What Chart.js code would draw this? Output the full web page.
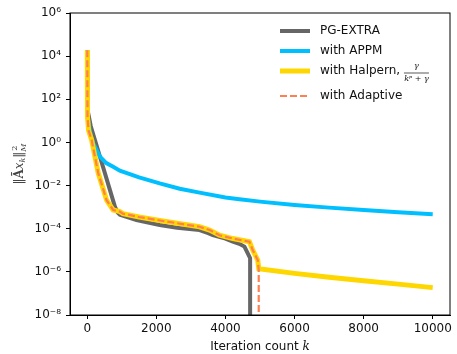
<!DOCTYPE html>
<html>
<head>
<meta charset="utf-8">
<script src="https://cdn.jsdelivr.net/npm/chart.js@4.4.1/dist/chart.umd.min.js"></script>
<style>
  html, body { margin: 0; padding: 0; background: #fff; }
</style>
</head>
<body>
<canvas id="myChart" width="457" height="354"></canvas>
<script>
// ---- data ----
const xTicks = [0, 2000, 4000, 6000, 8000, 10000];
const yTicks = [1e-8, 1e-6, 1e-4, 1e-2, 1e0, 1e2, 1e4, 1e6];

// PG-EXTRA
const pgIters = [0, 8, 100, 222, 510, 800, 880, 945, 1425, 2097, 2600, 3251, 3500, 3635, 4000, 4212, 4400, 4550, 4646, 4714, 4714];
const pgVals  = [1.9e4, 32, 5.8, 1.3, 0.038, 0.00105, 0.00056, 0.00044, 0.00025, 0.000148, 0.000112, 8.7e-5, 6.3e-5, 5.1e-5, 3.5e-5, 2.5e-5, 2e-5, 1.48e-5, 7.2e-6, 4.3e-6, 1e-12];

// with APPM
const appmIters = [0, 6, 100, 173, 366, 550, 750, 943, 1500, 2097, 2677, 3251, 4000, 4405, 5000, 6000, 7000, 8000, 9000, 10000];
const appmVals  = [1.9e4, 15.5, 2.2, 0.91, 0.22, 0.11, 0.074, 0.049, 0.024, 0.0126, 0.0071, 0.0047, 0.0028, 0.0023, 0.0018, 0.00126, 0.00095, 0.00074, 0.00058, 0.00047];

// with Halpern
const halpIters = [0, 6, 40, 127, 317, 560, 750, 943, 1030, 1500, 2097, 2600, 3251, 3540, 3830, 4212, 4694, 4790, 4935, 4965, 6000, 7000, 8000, 9000, 10000];
const halpVals  = [1.9e4, 15.5, 3.5, 1.3, 0.038, 0.0021, 0.00074, 0.00062, 0.0005, 0.00035, 0.00024, 0.00018, 0.000123, 8.7e-5, 5e-5, 3.5e-5, 2.5e-5, 1.02e-5, 3.5e-6, 1.4e-6, 8.5e-7, 5.6e-7, 3.9e-7, 2.7e-7, 1.86e-7];

// with Adaptive
const adaIters = [0, 6, 40, 127, 317, 560, 750, 943, 1030, 1500, 2097, 2600, 3251, 3540, 3830, 4212, 4694, 4790, 4935, 4963, 4963];
const adaVals  = [1.9e4, 15.5, 3.5, 1.3, 0.038, 0.0021, 0.00074, 0.00062, 0.0005, 0.00035, 0.00024, 0.00018, 0.000123, 8.7e-5, 5e-5, 3.5e-5, 2.5e-5, 1.02e-5, 3.5e-6, 1.26e-6, 1e-12];

const toPts = (xs, ys) => xs.map((x, i) => ({ x: x, y: ys[i] }));

const sup = { "0": "⁰", "1": "¹", "2": "²", "3": "³", "4": "⁴", "5": "⁵", "6": "⁶", "7": "⁷", "8": "⁸", "9": "⁹", "-": "⁻" };
function powLabel(v) {
  const e = String(Math.round(Math.log10(v)));
  return "10" + e.split("").map(c => sup[c]).join("");
}

// frame, axis titles and legend
const extras = {
  id: "extras",
  afterDraw(chart) {
    const ctx = chart.ctx;
    const a = chart.chartArea;
    ctx.save();
    ctx.strokeStyle = "#000";
    ctx.lineWidth = 1;
    ctx.strokeRect(a.left, a.top, a.right - a.left, a.bottom - a.top);

    // x title
    ctx.fillStyle = "#111";
    ctx.textBaseline = "middle";
    ctx.font = "12px 'DejaVu Sans'";
    const t1 = "Iteration count ";
    const w1 = ctx.measureText(t1).width;
    ctx.font = "italic 12px 'DejaVu Serif'";
    const w2 = ctx.measureText("k").width;
    let x0 = (a.left + a.right) / 2 - (w1 + w2) / 2;
    ctx.font = "12px 'DejaVu Sans'";
    ctx.textAlign = "left";
    ctx.fillText(t1, x0, 347);
    ctx.font = "italic 12px 'DejaVu Serif'";
    ctx.fillText("k", x0 + w1, 347);

    // y title
    ctx.save();
    ctx.translate(20, (a.top + a.bottom) / 2);
    ctx.rotate(-Math.PI / 2);
    ctx.fillStyle = "#444";
    const parts = [
      ["‖", "12px 'DejaVu Sans'", 0],
      ["Ã", "bold 12px 'DejaVu Serif'", 0],
      ["x", "italic 12px 'DejaVu Serif'", 0],
      ["k", "italic 8px 'DejaVu Serif'", 3],
      ["‖", "12px 'DejaVu Sans'", 0]
    ];
    let total = 0;
    parts.forEach(p => { ctx.font = p[1]; total += ctx.measureText(p[0]).width; });
    ctx.font = "8px 'DejaVu Serif'";
    const wSup = ctx.measureText("M").width;
    total += wSup;
    let cx = -total / 2;
    parts.forEach(p => {
      ctx.font = p[1];
      ctx.fillText(p[0], cx, p[2]);
      cx += ctx.measureText(p[0]).width;
    });
    ctx.font = "8px 'DejaVu Serif'";
    ctx.fillText("2", cx + 1, -5);
    ctx.font = "italic 8px 'DejaVu Serif'";
    ctx.fillText("M", cx, 4);
    ctx.restore();

    // legend
    const rows = [31, 51, 71, 96];
    const names = ["PG-EXTRA", "with APPM", "with Halpern, ", "with Adaptive"];
    chart.data.datasets.forEach((ds, i) => {
      const y = rows[i];
      ctx.beginPath();
      ctx.strokeStyle = ds.borderColor;
      ctx.lineWidth = ds.borderWidth;
      ctx.setLineDash(ds.borderDash || []);
      ctx.moveTo(280, y);
      ctx.lineTo(310, y);
      ctx.stroke();
      ctx.setLineDash([]);
      ctx.fillStyle = "#111";
      ctx.font = "12px 'DejaVu Sans'";
      ctx.textAlign = "left";
      ctx.textBaseline = "middle";
      ctx.fillText(names[i], 320, y);
      if (i === 2) {
        const fx = 320 + ctx.measureText(names[i]).width;
        const fw = 25;
        ctx.font = "italic 8px 'DejaVu Serif'";
        ctx.textAlign = "center";
        ctx.fillText("γ", fx + fw / 2, y - 5);
        ctx.fillText("kᵖ + γ", fx + fw / 2, y + 8);
        ctx.beginPath();
        ctx.strokeStyle = "#111";
        ctx.lineWidth = 0.7;
        ctx.moveTo(fx, y + 2);
        ctx.lineTo(fx + fw, y + 2);
        ctx.stroke();
      }
    });
    ctx.restore();
  }
};

const lineDs = (label, pts, color, width, order, dash) => ({
  label: label,
  data: pts,
  borderColor: color,
  backgroundColor: color,
  borderWidth: width,
  borderDash: dash,
  pointRadius: 0,
  tension: 0,
  fill: false,
  order: order
});

const config = {
  type: "line",
  data: {
    datasets: [
      lineDs("PG-EXTRA", toPts(pgIters, pgVals), "#666666", 4, 4),
      lineDs("with APPM", toPts(appmIters, appmVals), "#00BFFF", 4, 3),
      lineDs("with Halpern", toPts(halpIters, halpVals), "#FFD700", 5, 2),
      lineDs("with Adaptive", toPts(adaIters, adaVals), "#FF7F50", 2.2, 1, [7, 3])
    ]
  },
  options: {
    responsive: false,
    animation: false,
    devicePixelRatio: 1,
    layout: { padding: { top: 13, right: 7, left: 0, bottom: 0 } },
    plugins: { legend: { display: false }, tooltip: { enabled: false } },
    scales: {
      x: {
        type: "linear",
        min: -500,
        max: 10500,
        afterBuildTicks: s => { s.ticks = xTicks.map(v => ({ value: v })); },
        afterFit: s => { s.height = 39; },
        grid: { display: true, drawOnChartArea: false, drawTicks: true, tickLength: 4, color: "#000" },
        border: { display: true, color: "#000", width: 1 },
        ticks: { color: "#111", font: { family: "DejaVu Sans", size: 12 }, padding: 3, maxRotation: 0, callback: v => String(v) }
      },
      y: {
        type: "logarithmic",
        min: 1e-8,
        max: 1e6,
        afterBuildTicks: s => { s.ticks = yTicks.map(v => ({ value: v })); },
        afterFit: s => { s.width = 70; },
        grid: { display: true, drawOnChartArea: false, drawTicks: true, tickLength: 4, color: "#000" },
        border: { display: true, color: "#000", width: 1 },
        ticks: { color: "#111", font: { family: "DejaVu Sans", size: 12 }, padding: 5, callback: v => powLabel(v) }
      }
    }
  },
  plugins: [extras]
};

const myChart = new Chart(document.getElementById("myChart"), config);
</script>
</body>
</html>
